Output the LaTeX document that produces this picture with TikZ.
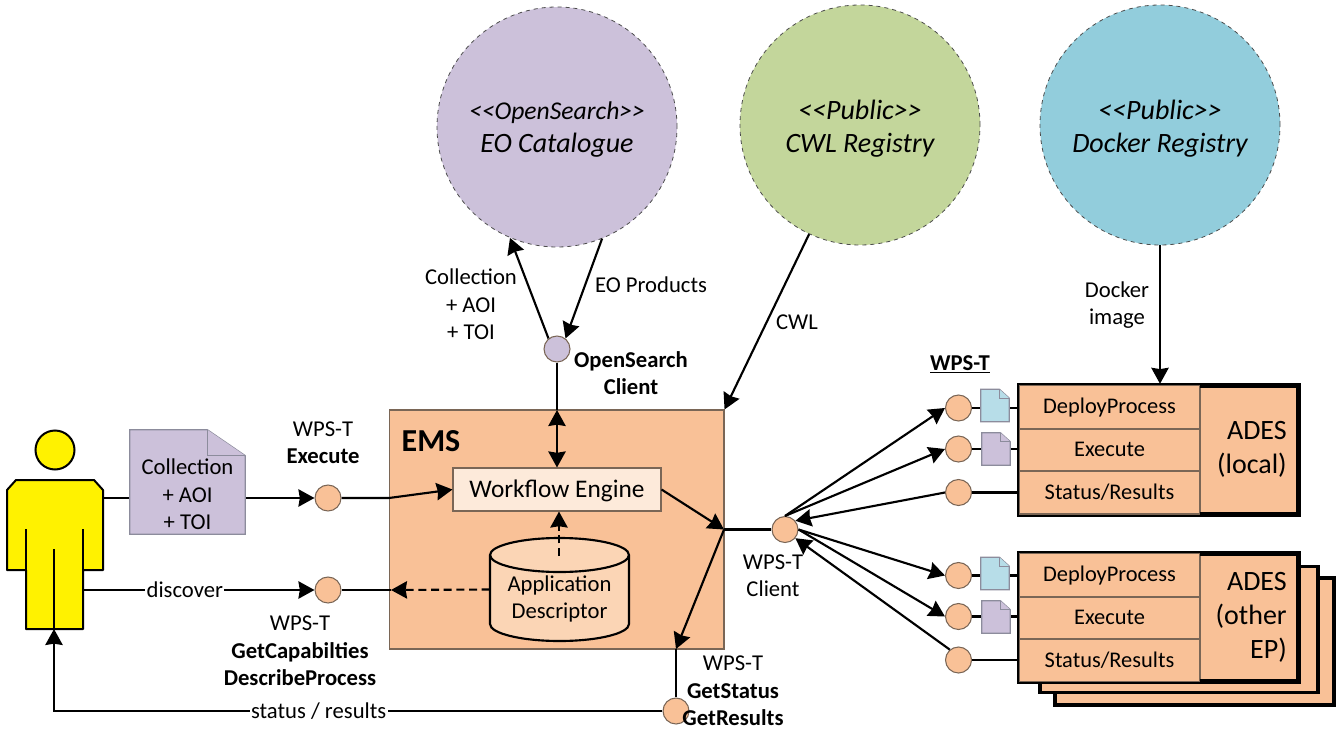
\documentclass[tikz,border=0pt]{standalone}
\usepackage{fontspec}
\setmainfont{Carlito}
\usetikzlibrary{arrows.meta}
\definecolor{emsorange}{HTML}{F9C197}
\definecolor{wflight}{HTML}{FDEADA}
\definecolor{cyllight}{HTML}{FBD5B5}
\definecolor{eopurple}{HTML}{CCC1DA}
\definecolor{cwlgreen}{HTML}{C3D69B}
\definecolor{dockblue}{HTML}{92CDDC}
\definecolor{docblue}{HTML}{B7DDE8}
\definecolor{edgebrown}{HTML}{7A6656}
\definecolor{docedge}{HTML}{8C8C9C}
\tikzset{
	boxsize/.style 2 args={minimum width=#1*.75pt,minimum height=#2*.75pt},
	link/.style={line width=1.6pt},
	arr/.style={link,-{Stealth[length=12pt,width=13pt,inset=1pt]}},
	arrboth/.style={link,{Stealth[length=12pt,width=13pt,inset=1pt]}-{Stealth[length=12pt,width=13pt,inset=1pt]}},
	dashlink/.style={dash pattern=on 6pt off 3.5pt},
	lbl/.style={inner sep=0,align=center,font=\fontsize{17}{20.5}\selectfont},
	onlink/.style={lbl,fill=white,inner xsep=1pt,inner ysep=.5pt},
	port/.style={circle,draw=edgebrown,line width=.8pt,fill=emsorange,inner sep=0,minimum size=26*.75pt},
	registry/.style={circle,draw=black!70,dashed,line width=.6pt,inner sep=0,minimum size=240*.75pt,align=center,font=\fontsize{21}{25}\selectfont\itshape},
	plainbox/.style={inner sep=0,draw=edgebrown,line width=.8pt},
	rowbox/.style={plainbox,fill=emsorange,boxsize={181}{#1},text height=13pt,text depth=3pt,font=\fontsize{16.8}{20}\selectfont},
	adesbox/.style={inner sep=0,draw=black,line width=1.8pt,fill=emsorange},
	shadowbox/.style={adesbox,line width=2.4pt},
	adesedge/.style={draw=black,line width=3pt,line join=round},
	adeslabel/.style={lbl,anchor=east,align=right,font=\fontsize{21}{25.5}\selectfont},
	docbox/.style={inner sep=0,boxsize={#1}},
	docline/.style={draw=docedge,line width=1pt,fill=#1}
}
\newcommand{\docicon}[4]{%
	\draw[docline=#2] (#1.north west) -- ([xshift=-#3*.75pt]#1.north east) -- ([yshift=-#4*.75pt]#1.north east) -- (#1.south east) -- (#1.south west) -- cycle;
	\draw[docline=#2] ([xshift=-#3*.75pt]#1.north east) |- ([yshift=-#4*.75pt]#1.north east);
}
\begin{document}
\begin{tikzpicture}[x=.75pt,y=-.75pt]
	\useasboundingbox (0,0) rectangle (1338,731);

	\node[registry,fill=eopurple] (eoCat) at (557,127) {\rule{0pt}{17pt}{\fontsize{19.2}{25}\selectfont <{}<OpenSearch>{}>}\\EO Catalogue};
	\node[registry,fill=cwlgreen] (cwlReg) at (860,125) {\rule{0pt}{20pt}<{}<Public>{}>\\CWL Registry};
	\node[registry,fill=dockblue] (dockReg) at (1160,125) {\rule{0pt}{20pt}<{}<Public>{}>\\Docker Registry};

	\node[circle,draw=black,line width=1.5pt,fill=yellow,inner sep=0,minimum size=39*.75pt] (userHead) at (55,450) {};
	\node[inner sep=0,boxsize={96}{149}] (userBody) at (55,554.5) {};
	\draw[line width=1.5pt,fill=yellow,line join=round] (16,480) -- (94,480) -- (103,490) -- (103,570) -- (83,570) -- (83,629) -- (26,629) -- (26,570) -- (7,570) -- (7,490) -- cycle;
	\draw[line width=1.5pt] (26,529) -- (26,570) (83,529) -- (83,570) (54,549) -- (54,629);
	\coordinate (userArm) at (103,498);
	\coordinate (userLeg) at (83,590);
	\coordinate (userFoot) at (54,629);

	\node[plainbox,fill=emsorange,boxsize={334.5}{239}] (ems) at (556.75,529.5) {};
	\node[inner sep=0,font=\fontsize{24}{28}\selectfont\bfseries] (emsLabel) at (431,441) {EMS};
	\node[plainbox,fill=wflight,boxsize={208}{43},text height=16pt,text depth=4pt,font=\fontsize{19}{23}\selectfont] (wfEngine) at (557,489.5) {Workflow Engine};

	\node[inner sep=0,boxsize={139}{103}] (appDesc) at (559.5,589.5) {};
	\draw[link,fill=cyllight] (490,555) -- (490,624) arc[start angle=180,end angle=360,x radius=69.5*.75pt,y radius=17*.75pt] -- (629,555) arc[start angle=0,end angle=180,x radius=69.5*.75pt,y radius=17*.75pt] -- cycle;
	\draw[link] (490,555) arc[start angle=180,end angle=360,x radius=69.5*.75pt,y radius=17*.75pt];
	\node[lbl] (appDescText) at (559.5,599) {Application\\Descriptor};
	\coordinate (appTop) at (559,556);

	\node[port,fill=eopurple] (osClient) at (557,349) {};
	\node[lbl,font=\fontsize{17}{20.5}\selectfont\bfseries] (osClientLabel) at (631,373) {OpenSearch\\Client};
	\node[port] (execClient) at (328,498) {};
	\node[port] (discClient) at (328,590) {};
	\node[port] (wpsClient) at (785,529.5) {};
	\node[port] (statusClient) at (676,711) {};

	\coordinate (emsIn) at (389,498);
	\coordinate (emsLeft) at (391,590);
	\coordinate (hubPt) at (724,529.5);
	\coordinate (emsBot) at (676,649);
	\coordinate (emsTop) at (557,410);

	\draw[arr] (osClient.129) -- (eoCat.-113);
	\draw[arr] (eoCat.-68) -- (osClient.51);
	\draw[arr] (cwlReg.-115.5) -- (ems.north east);
	\draw[link] (osClient.south) -- (emsTop);
	\draw[arrboth] (emsTop) -- (wfEngine.north);

	\draw[arr] (userArm) -- (execClient.west);
	\node[docbox={115}{104}] (docReq) at (187.5,482) {};
	\docicon{docReq}{eopurple}{38}{26}
	\node[lbl] (docReqText) at (187.5,494.5) {Collection\\+ AOI\\+ TOI};
	\draw[arr] (execClient.east) -- (emsIn) -- (wfEngine.west);
	\draw[arr] (userLeg) -- node[onlink,pos=.44] (discoverLabel) {discover} (discClient.west);
	\draw[link] (discClient.east) -- (emsLeft);
	\draw[arr,dashlink] (appDesc.west) -- (emsLeft);
	\draw[arr,dashlink] (appTop) -- (wfEngine.south -| appTop);
	\draw[arr] (wfEngine.east) -- (hubPt);
	\draw[link] (hubPt) -- (wpsClient.west);
	\draw[arr] (hubPt) -- (emsBot);
	\draw[link] (emsBot) -- (statusClient.north);
	\draw[arr] (statusClient.west) -- node[onlink,pos=.565] (statusLabel) {status / results} (statusClient.west -| userFoot) -- (userFoot);

	\node[port] (deployA) at (958.5,408) {};
	\node[port] (execA) at (958.5,449) {};
	\node[port] (statusA) at (958.5,492.5) {};
	\node[port] (deployB) at (958.5,575.5) {};
	\node[port] (execB) at (958.5,616.5) {};
	\node[port] (statusB) at (958.5,660) {};

	\draw[arr] (wpsClient.north) -- (deployA.west);
	\draw[arr] (wpsClient.north) -- (execA.west);
	\draw[arr] (statusA.west) -- (wpsClient.40);
	\draw[arr] (wpsClient.east) -- (deployB.west);
	\draw[arr] (wpsClient.east) -- (execB.west);
	\draw[arr] (statusB.130) -- (wpsClient.-40);

	\node[adesbox,boxsize={280}{130}] (adesLocal) at (1159,450) {};
	\node[rowbox=44] (deployRowA) at (1109.5,407) {DeployProcess};
	\node[rowbox=42] (execRowA) at (1109.5,450) {Execute};
	\node[rowbox=43] (statusRowA) at (1109.5,492.5) {Status/Results};
	\node[inner sep=0,boxsize={98}{128}] (adesLocalTag) at (1249,450) {};
	\draw[plainbox] (adesLocalTag.north west) -- (adesLocalTag.south west);
	\draw[adesbox,fill=none] (adesLocal.north west) rectangle (adesLocal.south east);
	\draw[adesedge] (adesLocalTag.north west) -- (adesLocalTag.north east) -- (adesLocalTag.south east) -- (adesLocalTag.south west);
	\node[adeslabel] (adesLocalText) at (1287,449.5) {ADES\\(local)};

	\node[shadowbox,boxsize={279}{127}] (adesBack) at (1194.5,641.5) {};
	\node[shadowbox,boxsize={278}{126}] (adesMid) at (1179,629.5) {};
	\node[adesbox,boxsize={280}{129}] (adesOther) at (1159,617.5) {};
	\node[rowbox=44] (deployRowB) at (1109.5,575) {DeployProcess};
	\node[rowbox=42] (execRowB) at (1109.5,618) {Execute};
	\node[rowbox=43] (statusRowB) at (1109.5,660.5) {Status/Results};
	\node[inner sep=0,boxsize={98}{127}] (adesOtherTag) at (1249,617.5) {};
	\draw[plainbox] (adesOtherTag.north west) -- (adesOtherTag.south west);
	\draw[adesbox,fill=none] (adesOther.north west) rectangle (adesOther.south east);
	\draw[adesedge] (adesOtherTag.north west) -- (adesOtherTag.north east) -- (adesOtherTag.south east) -- (adesOtherTag.south west);
	\node[adeslabel] (adesOtherText) at (1287,617.5) {ADES\\(other\\EP)};

	\draw[arr] (dockReg.south) -- (dockReg.south |- adesLocal.north);

	\draw[link] (deployA.east) -- (deployA.east -| adesLocal.west);
	\draw[link] (execA.east) -- (execA.east -| adesLocal.west);
	\draw[link] (statusA.east) -- (statusA.east -| adesLocal.west);
	\draw[link] (deployB.east) -- (deployB.east -| adesOther.west);
	\draw[link] (execB.east) -- (execB.east -| adesOther.west);
	\draw[link] (statusB.east) -- (statusB.east -| adesOther.west);

	\node[docbox={28}{32}] (docDeployA) at (995,405.5) {};
	\docicon{docDeployA}{docblue}{10}{9}
	\node[docbox={28}{32}] (docExecA) at (996,449) {};
	\docicon{docExecA}{eopurple}{10}{9}
	\node[docbox={28}{32}] (docDeployB) at (995,573.5) {};
	\docicon{docDeployB}{docblue}{10}{9}
	\node[docbox={28}{32}] (docExecB) at (996,617) {};
	\docicon{docExecB}{eopurple}{10}{9}

	\node[lbl] (collLabel) at (471,304.5) {Collection\\+ AOI\\+ TOI};
	\node[lbl] (eoProdLabel) at (651,285) {EO Products};
	\node[lbl] (cwlLabel) at (797,322) {CWL};
	\node[lbl] (dockImgLabel) at (1117,305) {Docker\\image};
	\node[lbl] (wpsTLabel) at (960,364) {\underline{\textbf{WPS-T}}};
	\node[lbl] (execLabel) at (323,443) {WPS-T\\\textbf{Execute}};
	\node[lbl] (discLabel) at (300,651) {WPS-T\\\textbf{GetCapabilties}\\\textbf{DescribeProcess}};
	\node[lbl] (clientLabel) at (773,576) {WPS-T\\Client};
	\node[lbl] (statusResLabel) at (733,691) {WPS-T\\\textbf{GetStatus}\\\textbf{GetResults}};
\end{tikzpicture}
\end{document}
